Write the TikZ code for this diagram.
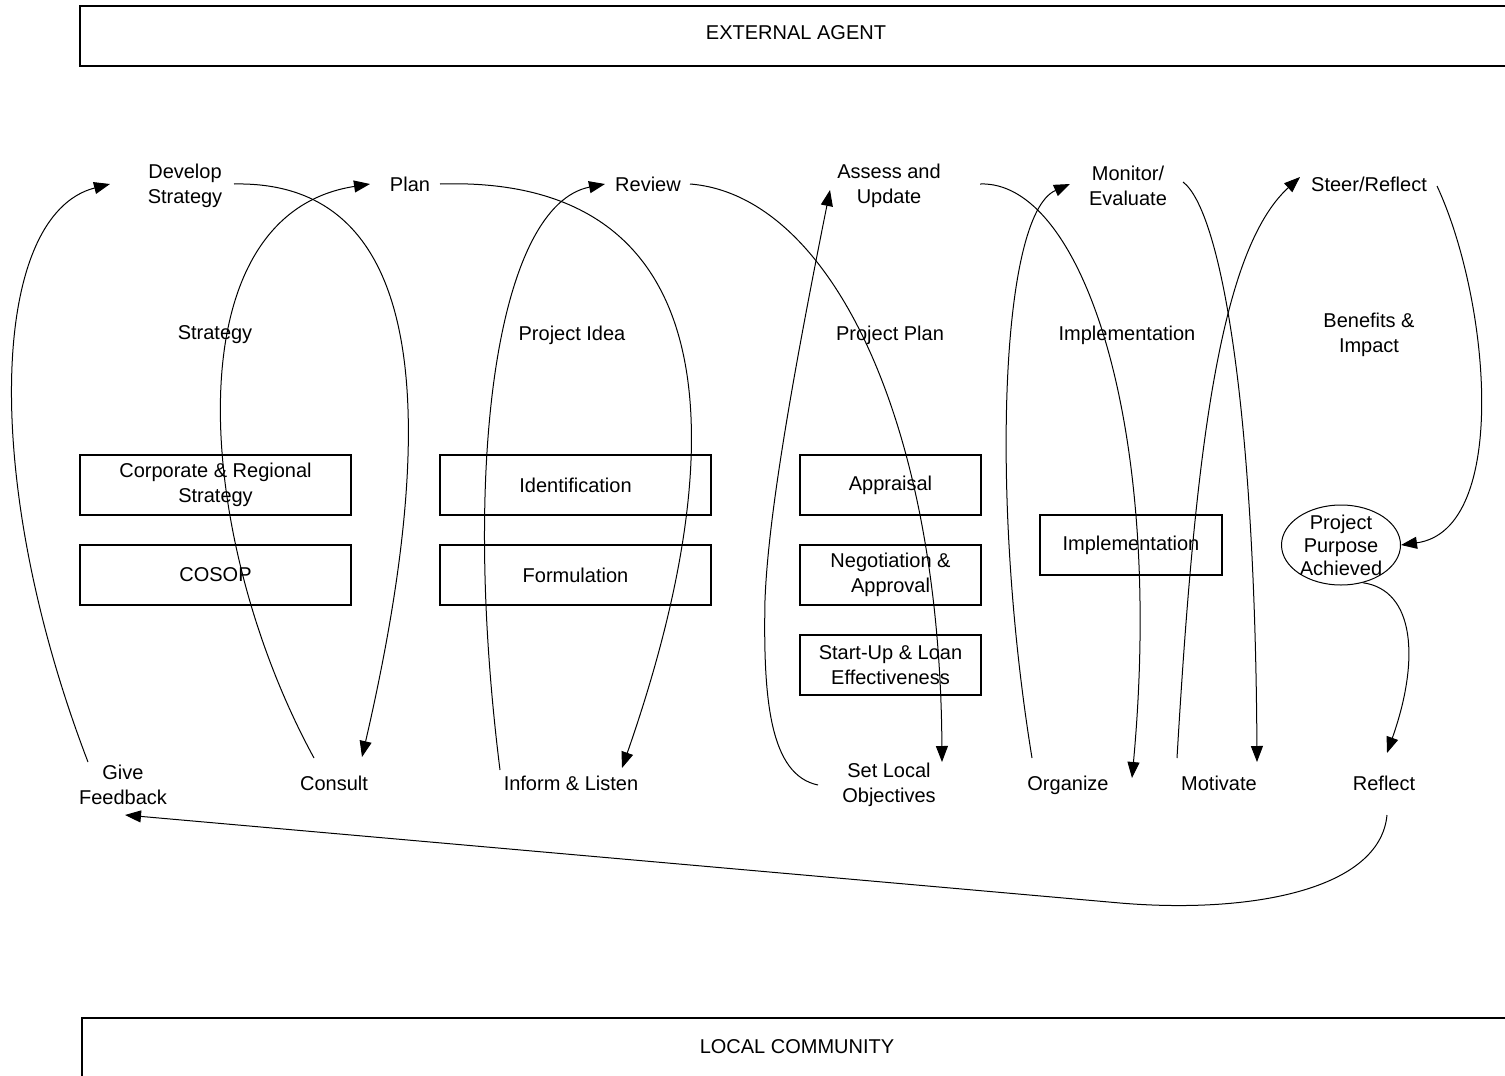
\documentclass[tikz,border=0pt]{standalone}
\usepackage{fontspec}
\setmainfont{Liberation Sans}
\usetikzlibrary{arrows.meta,shapes.geometric,calc}
\begin{document}
\begin{tikzpicture}[x=1pt,y=-1pt,
  font=\fontsize{20}{25}\selectfont,
  lbl/.style={align=center, inner sep=0pt},
  stagebox/.style={draw, line width=1.2pt, minimum height=60pt, align=center, inner sep=0pt},
  frame/.style={line width=1.3pt},
  conn/.style={line width=1pt, -{Triangle[length=16pt,width=12pt]}},
  plainconn/.style={line width=1pt}]
\useasboundingbox (0,0) rectangle (1505,1076);
\fill[white] (0,0) rectangle (1505,1076);

% outer bands
\draw[frame] (1506,6) -- (80,6) -- (80,66) -- (1506,66);
\node[lbl] (ea) at (796,33) {EXTERNAL AGENT};
\draw[frame] (1506,1018) -- (82,1018) -- (82,1077);
\node[lbl] (lc) at (797,1047) {LOCAL COMMUNITY};

% top actions
\node[lbl] (ds) at (185,186) {Develop\\Strategy};
\node[lbl] (pl) at (410,184) {Plan};
\node[lbl] (rv) at (648,184) {Review};
\node[lbl] (au) at (889,186) {Assess and\\Update};
\node[lbl] (me) at (1128,186) {Monitor/\\Evaluate};
\node[lbl] (sr) at (1369,184) {Steer/Reflect};

% headers
\node[lbl] (h1) at (215,335) {Strategy};
\node[lbl] (h2) at (572,335) {Project Idea};
\node[lbl] (h3) at (890,335) {Project Plan};
\node[lbl] (h4) at (1127,335) {Implementation};
\node[lbl] (h5) at (1369,335) {Benefits \&\\Impact};

% stage boxes
\node[stagebox, minimum width=271pt] (corp) at (215.5,485) {Corporate \& Regional\\Strategy};
\node[stagebox, minimum width=271pt] (cosop) at (215.5,575) {COSOP};
\node[stagebox, minimum width=271pt] (ident) at (575.5,485) {Identification};
\node[stagebox, minimum width=271pt] (form) at (575.5,575) {Formulation};
\node[stagebox, minimum width=181pt] (appr) at (890.5,485) {Appraisal};
\node[stagebox, minimum width=181pt] (nego) at (890.5,575) {Negotiation \&\\Approval};
\node[stagebox, minimum width=181pt] (stup) at (890.5,665) {Start-Up \& Loan\\Effectiveness};
\node[stagebox, minimum width=182pt] (impl) at (1131,545) {Implementation};
\node[draw, ellipse, line width=1pt, minimum width=119pt, minimum height=80pt, inner sep=0pt] (ppa) at (1341,545) {};
\node[lbl, font=\fontsize{20}{23}\selectfont] (ppat) at (1341,545) {Project\\Purpose\\Achieved};

% bottom actions
\node[lbl] (gf) at (123,785) {Give\\Feedback};
\node[lbl] (co) at (334,783) {Consult};
\node[lbl] (il) at (571,783) {Inform \& Listen};
\node[lbl] (sl) at (889,785) {Set Local\\Objectives};
\node[lbl] (og) at (1068,785) {Organize};
\node[lbl] (mo) at (1219,783) {Motivate};
\node[lbl] (rf) at (1384,783) {Reflect};

% connectors
\draw[conn] ($(gf)+(-35,-23)$) .. controls (-20,480) and (-10,215) .. ($(ds)+(-75,-2)$);
\draw[conn] ($(ds)+(49,-2)$) .. controls (430,180) and (440,420) .. ($(co)+(28,-26)$);
\draw[conn] ($(co)+(-20,-25)$) .. controls (195,540) and (170,215) .. ($(pl)+(-40,0)$);
\draw[conn] ($(pl)+(30,0)$) .. controls (720,175) and (740,430) .. ($(il)+(51,-15)$);
\draw[conn] ($(il)+(-71,-13)$) .. controls (460,450) and (500,205) .. ($(rv)+(-43,0)$);
\draw[conn] ($(rv)+(42,0)$) .. controls (830,195) and (940,420) .. ($(sl)+(53,-23)$);
\draw[conn] ($(sl)+(-71,0)$) .. controls (770,775) and (763,700) .. (765,600)
   .. controls (768,520) and (790,390) .. ($(au)+(-59,4)$);
\draw[conn] ($(au)+(91,-2)$) .. controls (1080,180) and (1165,420) .. ($(og)+(64,-7)$);
\draw[conn] ($(og)+(-36,-27)$) .. controls (990,500) and (1000,215) .. ($(me)+(-58,-2)$);
\draw[conn] ($(me)+(55,-4)$) .. controls (1220,210) and (1255,400) .. ($(mo)+(38,-21)$);
\draw[conn] ($(mo)+(-42,-25)$) .. controls (1195,450) and (1220,250) .. ($(sr)+(-69,-7)$);
\draw[conn] ($(sr)+(68,2)$) .. controls (1490,300) and (1510,530) .. (ppa.east);
\draw[conn] (ppa.-60) .. controls (1415,590) and (1420,660) .. ($(rf)+(3,-30)$);
\draw[conn] ($(rf)+(3,32)$) .. controls (1380,890) and (1250,914) .. (1120,903) -- ($(gf)+(2,30)$);
\end{tikzpicture}
\end{document}
